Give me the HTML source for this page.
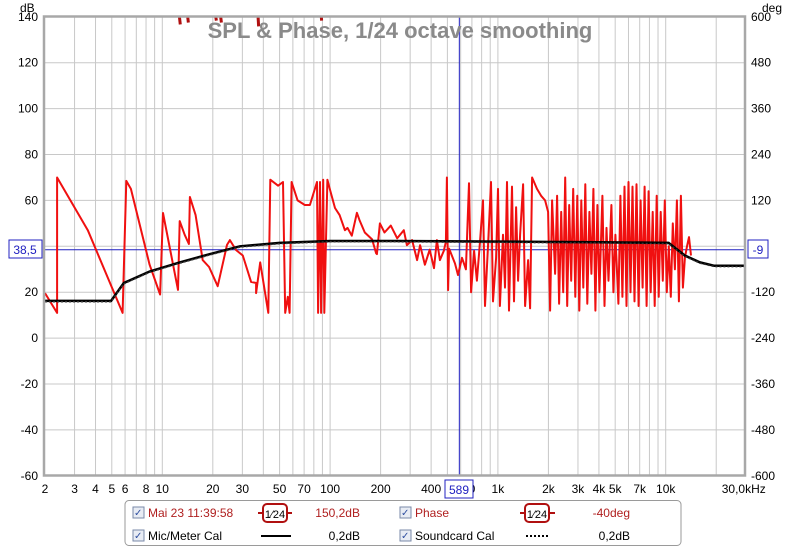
<!DOCTYPE html>
<html><head><meta charset="utf-8"><style>
body{margin:0;background:#fff;width:800px;height:549px;overflow:hidden;font-family:"Liberation Sans",sans-serif}
svg{position:absolute;left:0;top:0}
text{font-family:"Liberation Sans",sans-serif}
</style></head><body>
<svg id="chart" width="800" height="549">
<rect x="0" y="0" width="800" height="549" fill="#fff"/>
<g id="grid"></g>
<g id="series"></g>
<rect x="44" y="16.5" width="701" height="459" fill="none" stroke="#a8a8a8" stroke-width="2.5"/>
<text x="400" y="38" text-anchor="middle" font-size="22" font-weight="bold" fill="#8a8a8a">SPL &amp; Phase, 1/24 octave smoothing</text>
<text x="20" y="12" font-size="12" fill="#000">dB</text>
<text x="762" y="12" font-size="12" fill="#000">deg</text>
<g id="ticks"></g>
<g><rect x="9" y="240" width="33" height="18" fill="#fff" stroke="#2020c0"/><text x="25" y="254" text-anchor="middle" font-size="12" fill="#2020c0">38,5</text></g>
<g><rect x="748" y="240" width="20" height="18" fill="#fff" stroke="#2020c0"/><text x="758" y="254" text-anchor="middle" font-size="12" fill="#2020c0">-9</text></g>
<g><rect x="445" y="480" width="28" height="18" fill="#fff" stroke="#2020c0"/><text x="459" y="494" text-anchor="middle" font-size="12" fill="#2020c0">589</text></g>
<g>
<rect x="125" y="500.5" width="556" height="45" rx="4" fill="#fff" stroke="#9a9a9a"/>
<g>
<rect x="133" y="507" width="11" height="11" fill="#e8ecf4" stroke="#7a8aa8"/><text x="134" y="516" font-size="10" fill="#3050a0">✓</text>
<text x="148" y="517" font-size="12" fill="#b02020">Mai 23 11:39:58</text>
<line x1="258" y1="513" x2="292" y2="513" stroke="#b01010" stroke-width="2"/><rect x="263" y="504" width="24" height="18" rx="4" fill="#fff" stroke="#b01010" stroke-width="2"/><text x="275" y="518" text-anchor="middle" font-size="11" fill="#000">1⁄24</text>
<text x="360" y="517" text-anchor="end" font-size="12" fill="#b02020">150,2dB</text></g>
<g>
<rect x="400" y="507" width="11" height="11" fill="#e8ecf4" stroke="#7a8aa8"/><text x="401" y="516" font-size="10" fill="#3050a0">✓</text>
<text x="415" y="517" font-size="12" fill="#b02020">Phase</text>
<line x1="520" y1="513" x2="555" y2="513" stroke="#b01010" stroke-width="2"/><rect x="525" y="504" width="24" height="18" rx="4" fill="#fff" stroke="#b01010" stroke-width="2"/><text x="537" y="518" text-anchor="middle" font-size="11" fill="#000">1⁄24</text>
<text x="630" y="517" text-anchor="end" font-size="12" fill="#b02020">-40deg</text></g>
<g>
<rect x="133" y="530" width="11" height="11" fill="#e8ecf4" stroke="#7a8aa8"/><text x="134" y="539" font-size="10" fill="#3050a0">✓</text>
<text x="148" y="540" font-size="12" fill="#000">Mic/Meter Cal</text>
<line x1="261" y1="536" x2="291" y2="536" stroke="#000" stroke-width="2"/>
<text x="360" y="540" text-anchor="end" font-size="12" fill="#000">0,2dB</text></g>
<g>
<rect x="400" y="530" width="11" height="11" fill="#e8ecf4" stroke="#7a8aa8"/><text x="401" y="539" font-size="10" fill="#3050a0">✓</text>
<text x="415" y="540" font-size="12" fill="#000">Soundcard Cal</text>
<line x1="526" y1="536" x2="550" y2="536" stroke="#000" stroke-width="2" stroke-dasharray="2,2"/>
<text x="630" y="540" text-anchor="end" font-size="12" fill="#000">0,2dB</text></g>
</g>
</svg>
<script>
const yTicksDb=[140,120,100,80,60,40,20,0,-20,-40,-60];
const yTicksDeg=[600,480,360,240,120,0,-120,-240,-360,-480,-600];
const yTickShow=[140,120,100,80,60,null,20,0,-20,-40,-60];
const yTickShowR=[600,480,360,240,120,null,-120,-240,-360,-480,-600];
const xGrid=[3,4,5,6,7,8,9,10,20,30,40,50,60,70,80,90,100,200,300,400,500,600,700,800,900,1000,2000,3000,4000,5000,6000,7000,8000,9000,10000,20000];
const xTickVals=[2,3,4,5,6,8,10,20,30,50,70,100,200,400,700,1000,2000,3000,4000,5000,7000,10000,30000];
const xTickLabels=["2","3","4","5","6","8","10","20","30","50","70","100","200","400","0","1k","2k","3k","4k","5k","7k","10k","30,0kHz"];
const cursorDb=38.5;
const cursorFreq=589;
const splFreq=[2,2.36,2.36,3.6,5.8,6.1,6.5,8.4,9.7,10.1,12.4,12.7,13.6,14.4,14.6,15.8,17.4,19,21.4,24.3,25.3,27.5,30.2,33.8,36.2,36.2,38.3,42.8,44,49,52.4,54,56,57.4,59,64,70.7,75.8,83.6,84.8,87.1,88.4,91,92.3,96.4,100,106.9,114,122.6,126.9,134.6,144.5,149.6,161,178,188,190,198,211,230,251,275,287,308,330,344,367,392,416,433,451,476,490,497,505,512,555,578,611,645,673,692,721,750,782,815,838,873,910,935,975,1002,1028,1072,1102,1133,1165,1214,1248,1283,1319,1356,1413,1452,1513,1556,1599,1711,1808,1911,1991,2047,2104,2193,2254,2317,2382,2449,2518,2588,2661,2735,2812,2891,2972,3055,3141,3229,3319,3412,3508,3606,3707,3811,3918,4028,4198,4316,4437,4561,4744,4877,5014,5226,5372,5523,5678,5837,6001,6169,6342,6520,6703,6891,7084,7283,7487,7697,7913,8135,8363,8598,8839,9087,9342,9604,9873,10150,10435,10728,11029,11338,11656,11983,12320,12665,13020,13386,13761,14147];
const splDb=[19.6,11,70,47,11,68.5,65,32,19,54.5,21,51,45,41,61.5,53.6,34,31,22.6,40.6,42.7,38.4,36,24.5,24,19.6,33,11,69,66.4,68,11,18,11,68,60,58,58,68,11,68,11,69,11,69,64.5,56.7,53.6,47,48,44.6,54.6,51.4,46,43,37,36.6,50,46,49,43.5,47,40.5,42.7,34,40.5,32,38.5,30.5,42.7,34,38,42,70,20.9,39,32.5,27.5,35,30,67.5,20,38,25,42,60,14,40,68,16,35,65,14,45,22,68,12,66,16,57,25,45,67,14,34,13,70,65,62,60,55,12,60,28,62,15,55,20,70,14,58,25,65,18,62,12,60,22,67,15,55,28,65,12,58,20,62,14,48,25,58,20,45,15,62,18,66,14,68,20,66,16,67,14,60,22,66,14,64,20,55,14,62,18,55,25,60,20,40,18,50,30,60,16,62,22,35,40,44,36];
const calFreq=[2,4.95,5.9,8.4,12.7,19,29,50,100,250,4000,10400,13000,16000,19500,30000];
const calDb=[16.2,16.2,24,29,33,36.5,40,41.5,42.3,42.3,41.8,41.5,36,33,31.5,31.5];
const phaseFreq=[12.5,12.8,14,14.3,20.5,21,22,22.5,37,37.5,88,89];
const phaseDeg=[620,580,620,585,620,590,620,585,620,575,620,590];

const L=44,R=745,T=16.8,B=475.8;
const xs=f=>162.3+167.8*Math.log10(f/10);
const ys=d=>T+(140-d)*(B-T)/200;
const ysDeg=g=>T+(600-g)*(B-T)/1200;
const NS="http://www.w3.org/2000/svg";
function mk(tag,attrs,parent){const e=document.createElementNS(NS,tag);for(const k in attrs)e.setAttribute(k,attrs[k]);parent.appendChild(e);return e;}
const grid=document.getElementById('grid'),ser=document.getElementById('series'),tk=document.getElementById('ticks');
yTicksDb.forEach((d,i)=>{
  const y=ys(d);
  const g=mk('line',{x1:L,x2:R,y1:y,y2:y,stroke:'#c8c8c8','stroke-width':1},grid);
  
  
  if(yTickShow[i]!==null){const t=mk('text',{x:38,y:y+4,'text-anchor':'end','font-size':12,fill:'#000'},tk);t.textContent=yTickShow[i];
  
  }
  if(yTickShowR[i]!==null){const t2=mk('text',{x:751,y:y+4,'font-size':12,fill:'#000'},tk);t2.textContent=yTickShowR[i];
  
  }
});
xGrid.forEach(f=>{const x=xs(f);const g=mk('line',{x1:x,x2:x,y1:T,y2:B,stroke:'#c8c8c8','stroke-width':1},grid);
  
  });
xTickVals.forEach((f,i)=>{const t=mk('text',{x:xs(f),y:493,'text-anchor':'middle','font-size':12,fill:'#000'},tk);t.textContent=xTickLabels[i];
  if(f===30000)t.setAttribute('x',xs(f)-2);
  
  });
let c1=mk('line',{x1:L,x2:R,y1:ys(cursorDb),y2:ys(cursorDb),stroke:'#2020c0','stroke-width':1},ser);


let c2=mk('line',{x1:xs(cursorFreq),x2:xs(cursorFreq),y1:T,y2:B,stroke:'#2020c0','stroke-width':1},ser);


const clip=mk('clipPath',{id:'pc'},ser);mk('rect',{x:L,y:T,width:R-L,height:B-T},clip);
for(let i=0;i<phaseFreq.length;i+=2){
  const p=mk('polyline',{points:[i,i+1].map(j=>xs(phaseFreq[j])+','+ysDeg(phaseDeg[j])).join(' '),fill:'none',stroke:'#b01010','stroke-width':3,'clip-path':'url(#pc)'},ser);
  
  
}
const spl=mk('polyline',{points:splFreq.map((f,i)=>xs(f).toFixed(1)+','+ys(splDb[i]).toFixed(1)).join(' '),fill:'none',stroke:'#f01010','stroke-width':2,'stroke-linejoin':'round','clip-path':'url(#pc)'},ser);


const sc=mk('polyline',{points:calFreq.map((f,i)=>xs(f).toFixed(1)+','+ys(calDb[i]).toFixed(1)).join(' '),fill:'none',stroke:'#000','stroke-width':2.5},ser);


const sd=mk('polyline',{points:calFreq.map((f,i)=>xs(f).toFixed(1)+','+(ys(calDb[i])+0.8).toFixed(1)).join(' '),fill:'none',stroke:'#333','stroke-width':1.5,'stroke-dasharray':'2,2'},ser);


</script>
</body></html>
